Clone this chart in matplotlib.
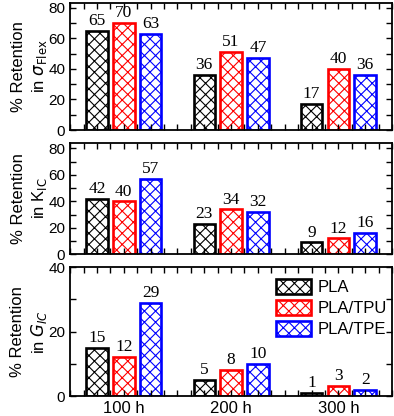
import numpy as np
import matplotlib
matplotlib.use("Agg")
import matplotlib.pyplot as plt
from matplotlib.ticker import MultipleLocator

plt.rcParams['font.family'] = ['Liberation Sans', 'DejaVu Sans']
plt.rcParams['hatch.linewidth'] = 0.8

groups = ["100 h", "200 h", "300 h"]
series = ["PLA", "PLA/TPU", "PLA/TPE"]
colors = ["black", "red", "blue"]

flex = [[65, 36, 17], [70, 51, 40], [63, 47, 36]]
kic = [[42, 23, 9], [40, 34, 12], [57, 32, 16]]
gic = [[15, 5, 1], [12, 8, 3], [29, 10, 2]]

panels = [
    (flex, "% Retention\nin $\\sigma_{\\mathrm{Flex}}$", 83, [0, 20, 40, 60, 80]),
    (kic, "% Retention\nin K$_{\\mathrm{IC}}$", 84, [0, 20, 40, 60, 80]),
    (gic, "% Retention\nin $G_{IC}$", 40, [0, 20, 40]),
]
# axes rectangles [left, bottom, width, height]
rects = [[0.178, 0.6875, 0.817, 0.305],
         [0.178, 0.389, 0.817, 0.267],
         [0.178, 0.048, 0.817, 0.310]]

fig = plt.figure(figsize=(3.94, 4.16), dpi=100)
x = np.arange(len(groups))
w = 0.2
offs = [-0.25, 0, 0.25]

for (data, ylab, ytop, yt), r in zip(panels, rects):
    ax = fig.add_axes(r)
    for i in range(3):
        ax.bar(x + offs[i], data[i], w, facecolor="white", edgecolor=colors[i],
               hatch="xxx", linewidth=1.9, label=series[i])
        for xi, v in zip(x + offs[i], data[i]):
            ax.text(xi, v + ytop * 0.015, str(v), ha="center", va="bottom",
                    fontsize=12.5, family="Liberation Serif")
    ax.set_xlim(-0.5, 2.5)
    ax.set_ylim(0, ytop)
    ax.set_yticks(yt)
    ax.yaxis.set_minor_locator(MultipleLocator(10))
    ax.set_xticks(x)
    ax.xaxis.set_minor_locator(MultipleLocator(0.125))
    ax.tick_params(which="both", direction="in", top=True, right=True, labelsize=11)
    ax.tick_params(which="both", length=4, width=1)
    for s in ax.spines.values():
        s.set_linewidth(1.3)
    ax.set_ylabel(ylab, fontsize=12, linespacing=1.3, ha="center")
    ax.yaxis.set_label_coords(-0.065, 0.5)
    if data is gic:
        ax.set_xticklabels(groups, fontsize=12)
        ax.legend(loc="upper right", frameon=False, fontsize=12, handlelength=2.1,
                  handleheight=1.0, borderaxespad=0.3, labelspacing=0.3,
                  handletextpad=0.4, bbox_to_anchor=(1.02, 1.0))
    else:
        ax.set_xticklabels([])

fig.savefig("out.png", dpi=100)
